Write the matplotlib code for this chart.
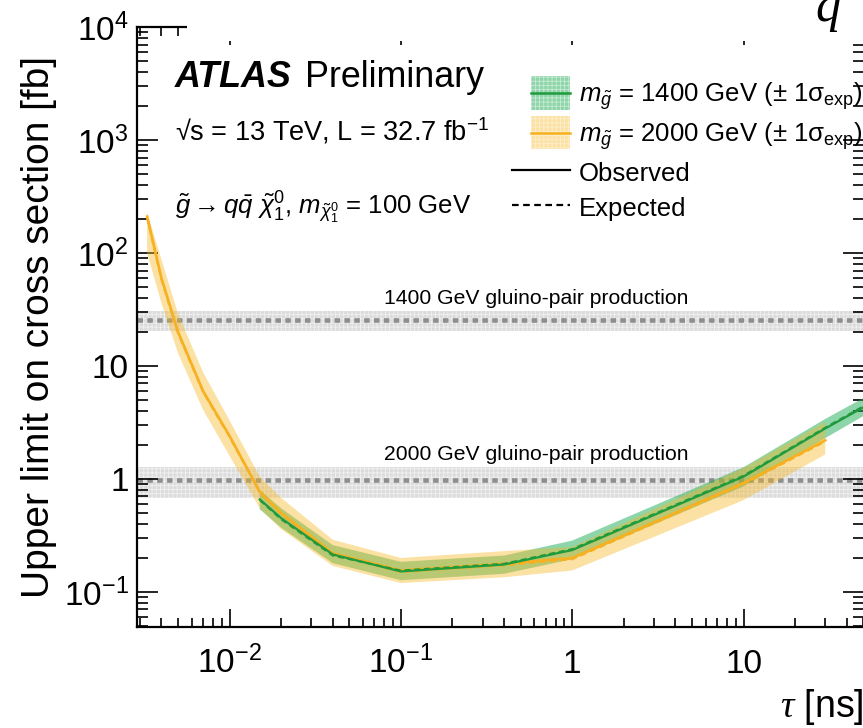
import numpy as np
import matplotlib
matplotlib.use("Agg")
import matplotlib.pyplot as plt
from matplotlib.patches import Patch, Rectangle
from matplotlib.lines import Line2D
from matplotlib.legend_handler import HandlerBase
from matplotlib.ticker import FixedLocator, FuncFormatter, LogLocator, NullFormatter
from matplotlib.transforms import blended_transform_factory

plt.rcParams['font.family'] = ['Liberation Sans', 'DejaVu Sans']
plt.rcParams['mathtext.fontset'] = 'custom'
plt.rcParams['mathtext.rm'] = 'Liberation Sans'
plt.rcParams['mathtext.it'] = 'Liberation Sans:italic'
plt.rcParams['mathtext.bf'] = 'Liberation Sans:bold'
plt.rcParams['mathtext.sf'] = 'Liberation Serif:italic'
plt.rcParams['mathtext.default'] = 'regular'
plt.rcParams['hatch.linewidth'] = 0.6

# m_gluino = 2000 GeV
tau_2000 = [0.0033, 0.004, 0.005, 0.007, 0.01, 0.015, 0.02, 0.04, 0.1, 0.4, 1, 10, 30]
obs_2000 = [210, 60, 20, 6.0, 2.4, 0.77, 0.50, 0.22, 0.155, 0.178, 0.20, 0.92, 2.2]
exp_2000 = [205, 58, 19.5, 5.9, 2.35, 0.76, 0.49, 0.215, 0.150, 0.172, 0.195, 0.90, 2.15]
lo_2000 = [100, 36, 13, 4.1, 1.6, 0.55, 0.36, 0.17, 0.12, 0.135, 0.155, 0.65, 1.65]
hi_2000 = [228, 88, 29, 8.8, 3.3, 1.05, 0.68, 0.29, 0.20, 0.23, 0.25, 1.25, 3.2]

# m_gluino = 1400 GeV
tau_1400 = [0.015, 0.02, 0.04, 0.1, 0.4, 1, 10, 30, 50]
obs_1400 = [0.66, 0.45, 0.215, 0.152, 0.175, 0.235, 1.05, 2.8, 4.3]
exp_1400 = [0.65, 0.44, 0.21, 0.155, 0.178, 0.24, 1.07, 2.85, 4.4]
lo_1400 = [0.54, 0.37, 0.18, 0.127, 0.145, 0.195, 0.86, 2.3, 3.6]
hi_1400 = [0.80, 0.55, 0.26, 0.185, 0.21, 0.285, 1.27, 3.4, 5.2]

# gluino-pair production cross sections [fb]
xsec = [25.3, 0.98]
xsec_lo = [20.5, 0.68]
xsec_hi = [30.5, 1.28]
xsec_labels = ['1400 GeV gluino-pair production', '2000 GeV gluino-pair production']

xlim = (0.00288, 50.5)
ylim = (0.049, 1e4)

col_or = '#f6b020'
col_gr = '#1f9a3c'
band_or = (0.97, 0.72, 0.15)
band_gr = (0.12, 0.68, 0.33)


class BandEntry:
    def __init__(self, face, alpha, line):
        self.face = face
        self.alpha = alpha
        self.line = line


class BandHandler(HandlerBase):
    # narrower hatched box with the central line, like the ROOT legend
    def create_artists(self, legend, orig_handle, xdescent, ydescent, width, height,
                       fontsize, trans):
        x0 = -xdescent + width * 0.32
        w = width * 0.68
        h = fontsize * 1.3
        yc = -ydescent + height / 2
        r = Rectangle((x0, yc - h / 2), w, h, facecolor=orig_handle.face,
                      alpha=orig_handle.alpha, hatch='++++', edgecolor='white', lw=0,
                      transform=trans)
        l = Line2D([x0, x0 + w], [yc, yc], color=orig_handle.line, lw=1.8, transform=trans)
        return [r, l]


fig = plt.figure(figsize=(8.63, 7.28), dpi=100)
ax = fig.add_axes([137 / 863, 101 / 728, 727 / 863, 600 / 728])
ax.set_xscale('log')
ax.set_yscale('log')
ax.set_xlim(*xlim)
ax.set_ylim(*ylim)

# theory bands
xs = np.array(xlim)
for s, lo, hi in zip(xsec, xsec_lo, xsec_hi):
    ax.fill_between(xs, [lo, lo], [hi, hi], facecolor='#dcdcdc', edgecolor='#f0f0f0',
                    hatch='++++', linewidth=0, zorder=1)
    ax.plot(xs, [s, s], color='#8e8e8e', lw=3.3, linestyle=(0, (1.2, 0.95)), zorder=1.5)

lab_tr = blended_transform_factory(ax.transAxes, ax.transData)
for hi, lab in zip(xsec_hi, xsec_labels):
    ax.text(0.549, hi * 1.07, lab, transform=lab_tr, ha='center', va='bottom',
            fontsize=15.2, zorder=5)

# limit bands and lines
ax.fill_between(tau_1400, lo_1400, hi_1400, facecolor=band_gr, alpha=0.5,
                linewidth=0, zorder=2)
ax.fill_between(tau_2000, lo_2000, hi_2000, facecolor=band_or, alpha=0.42,
                linewidth=0, zorder=2.1)
ax.plot(tau_2000, exp_2000, color=col_or, lw=1.5, linestyle=(0, (3, 2)), zorder=3)
ax.plot(tau_2000, obs_2000, color=col_or, lw=1.9, zorder=3.1)
ax.plot(tau_1400, exp_1400, color=col_gr, lw=1.4, linestyle=(0, (3, 2)), zorder=3.2)
ax.plot(tau_1400, obs_1400, color=col_gr, lw=1.6, zorder=3.3)

# axes style
for sp in ax.spines.values():
    sp.set_linewidth(1.6)
ax.xaxis.set_major_locator(FixedLocator([0.01, 0.1, 1, 10]))
ax.xaxis.set_minor_locator(LogLocator(base=10, subs=np.arange(2, 10)))
ax.yaxis.set_major_locator(FixedLocator([0.1, 1, 10, 100, 1000, 10000]))
ax.yaxis.set_minor_locator(LogLocator(base=10, subs=np.arange(2, 10), numticks=20))
ax.xaxis.set_minor_formatter(NullFormatter())
ax.yaxis.set_minor_formatter(NullFormatter())


def pow_fmt(v, pos):
    e = int(round(np.log10(v)))
    if e == 0:
        return '1'
    if e == 1:
        return '10'
    return r'$10^{%d}$' % e


ax.xaxis.set_major_formatter(FuncFormatter(pow_fmt))
ax.yaxis.set_major_formatter(FuncFormatter(pow_fmt))
ax.tick_params(which='both', direction='in', top=True, right=True, width=1.2, labelsize=24)
ax.tick_params(axis='x', which='major', length=13, pad=33)
ax.tick_params(axis='x', which='minor', length=6.5)
ax.tick_params(axis='y', which='major', length=15, pad=6)
ax.tick_params(axis='y', which='minor', length=8)
for t in ax.xaxis.get_major_ticks():
    t.label1.set_va('baseline')

ax.set_ylabel('Upper limit on cross section [fb]', fontsize=28)
ax.yaxis.set_label_coords(-0.11, 0.5)
ax.set_xlabel(r'$\mathsf{\tau}$ [ns]', fontsize=27, ha='right')
ax.xaxis.set_label_coords(1.0, -0.1)

# hide top frame segment, as in the reference
fig.add_artist(Rectangle((187 / 863, 1 - 41 / 728), 1, 41 / 728, transform=fig.transFigure,
                         facecolor='white', edgecolor='none', zorder=1))
fig.text(828 / 863, 1 - 21 / 728, 'q', fontsize=36, family='Liberation Serif',
         style='italic', ha='center', va='baseline', zorder=2)

# labels
fig.text(175 / 863, 1 - 87 / 728, 'ATLAS', fontsize=25.8, weight='bold', style='italic')
fig.text(305 / 863, 1 - 87 / 728, 'Preliminary', fontsize=25.8)
fig.text(175 / 863, 1 - 141 / 728, '√s = 13 TeV, L = 32.7 fb$^{-1}$', fontsize=19.5)
fig.text(175 / 863, 1 - 215 / 728,
         r'$\mathit{\tilde{g}\rightarrow q\bar{q}\ \tilde{\chi}^{0}_{1}}$, '
         r'$\mathit{m}_{\mathit{\tilde{\chi}^{0}_{1}}}$ = 100 GeV', fontsize=18.5)

# legend
h_gr = BandEntry(band_gr, 0.5, col_gr)
h_or = BandEntry(band_or, 0.42, col_or)
h_obs = Line2D([], [], color='black', lw=1.6)
h_exp = Line2D([], [], color='black', lw=1.6, linestyle=(0, (3, 2)))
labels = [r'$\mathit{m}_{\mathit{\tilde{g}}}$ = 1400 GeV ($\pm$ 1$\sigma_{exp}$)',
          r'$\mathit{m}_{\mathit{\tilde{g}}}$ = 2000 GeV ($\pm$ 1$\sigma_{exp}$)',
          'Observed', 'Expected']
fig.legend([h_gr, h_or, h_obs, h_exp], labels, loc='upper left',
           bbox_to_anchor=(512 / 863, 1 - 79 / 728), frameon=False, fontsize=18.5,
           handlelength=2.25, handleheight=1.3, handletextpad=0.36, labelspacing=0.27,
           borderpad=0, borderaxespad=0, handler_map={BandEntry: BandHandler()})

fig.savefig('out.png', dpi=100)
